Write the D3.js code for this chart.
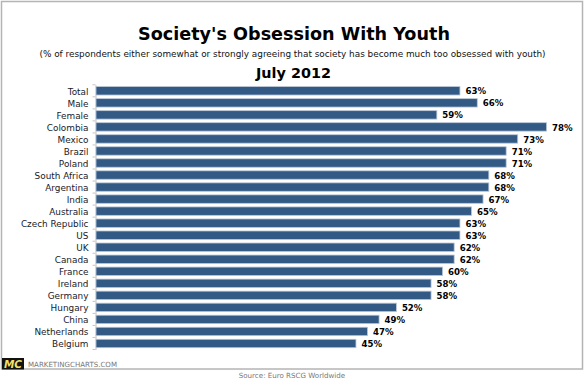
<!DOCTYPE html>
<html>
<head>
<meta charset="utf-8">
<script src="https://cdnjs.cloudflare.com/ajax/libs/d3/7.8.5/d3.min.js"></script>
<style>
html, body { margin: 0; padding: 0; background: #fff; }
svg { display: block; }
text { font-family: "DejaVu Sans", Verdana, sans-serif; }
</style>
</head>
<body>
<div id="chart"></div>
<script>
var categories = ["Total", "Male", "Female", "Colombia", "Mexico", "Brazil", "Poland", "South Africa",
    "Argentina", "India", "Australia", "Czech Republic", "US", "UK", "Canada", "France",
    "Ireland", "Germany", "Hungary", "China", "Netherlands", "Belgium"];
var values = [63, 66, 59, 78, 73, 71, 71, 68, 68, 67, 65, 63, 63, 62, 62, 60, 58, 58, 52, 49, 47, 45];

var title = "Society's Obsession With Youth";
var subtitle = "(% of respondents either somewhat or strongly agreeing that society has become much too obsessed with youth)";
var period = "July 2012";
var source = "Source: Euro RSCG Worldwide";

var width = 585, height = 381;

var svg = d3.select("#chart").append("svg")
    .attr("width", width)
    .attr("height", height);

// outer frame
svg.append("rect")
    .attr("x", 1.5).attr("y", 1.5)
    .attr("width", 581).attr("height", 367.5)
    .attr("fill", "#fff")
    .attr("stroke", "#b4b4b4")
    .attr("stroke-width", 1.5);

// headings
svg.append("text").attr("x", 294).attr("y", 39.5)
    .attr("text-anchor", "middle")
    .attr("font-size", 17.6).attr("font-weight", "bold").attr("fill", "#000")
    .text(title);
svg.append("text").attr("x", 292.5).attr("y", 57)
    .attr("text-anchor", "middle")
    .attr("font-size", 8.9).attr("fill", "#111")
    .text(subtitle);
svg.append("text").attr("x", 293.5).attr("y", 77.5)
    .attr("text-anchor", "middle")
    .attr("font-size", 14.4).attr("font-weight", "bold").attr("fill", "#000")
    .text(period);

// scales
var x = d3.scaleLinear().domain([0, 78]).range([96, 546.6]);
var y = d3.scaleBand().domain(categories).range([84.8, 349.5])
    .paddingInner(0.3).paddingOuter(0.15);

// category axis, ticks sit between the bands so they are drawn apart
var yAxis = d3.axisLeft(y).tickSize(0).tickPadding(7);
var axisG = svg.append("g")
    .attr("transform", "translate(95.5,0)")
    .call(yAxis);
axisG.select("path").attr("stroke", "#c4c4c4");
axisG.selectAll("text")
    .attr("font-size", 8.9)
    .attr("dy", "0.45em")
    .attr("fill", "#1a1a2a")
    .attr("font-family", "'DejaVu Sans Condensed', 'DejaVu Sans', sans-serif");

svg.selectAll("line.sep")
    .data(d3.range(categories.length + 1))
    .enter()
    .append("line")
    .attr("class", "sep")
    .attr("x1", 92.5)
    .attr("x2", 95.5)
    .attr("y1", function (i) { return 84.8 + i * y.step(); })
    .attr("y2", function (i) { return 84.8 + i * y.step(); })
    .attr("stroke", "#c4c4c4");

// bars
svg.selectAll("rect.bar")
    .data(values)
    .enter()
    .append("rect")
    .attr("class", "bar")
    .attr("x", x(0))
    .attr("y", function (d, i) { return y(categories[i]); })
    .attr("width", function (d) { return x(d) - x(0); })
    .attr("height", y.bandwidth())
    .attr("fill", "#325a85")
    .attr("stroke", "#b9c7d6")
    .attr("stroke-width", 0.8);

// value labels
svg.selectAll("text.val")
    .data(values)
    .enter()
    .append("text")
    .attr("class", "val")
    .attr("x", function (d) { return x(d) + 5.5; })
    .attr("y", function (d, i) { return y(categories[i]) + y.bandwidth() / 2; })
    .attr("dy", "0.42em")
    .attr("font-size", 8.6)
    .attr("font-weight", "bold")
    .attr("fill", "#000")
    .text(function (d) { return d + "%"; });

// logo
svg.append("rect").attr("x", 2).attr("y", 358).attr("width", 22).attr("height", 11.5).attr("fill", "#111");
svg.append("text").attr("x", 13).attr("y", 368)
    .attr("text-anchor", "middle")
    .attr("font-size", 10.5).attr("font-weight", "bold").attr("font-style", "italic")
    .attr("fill", "#efe26a")
    .text("MC");
svg.append("text").attr("x", 28).attr("y", 367)
    .attr("font-size", 7.05).attr("fill", "#777")
    .text("MARKETINGCHARTS.COM");

// source
svg.append("text").attr("x", 292).attr("y", 378)
    .attr("text-anchor", "middle")
    .attr("font-size", 7.1).attr("fill", "#777")
    .text(source);
</script>
</body>
</html>
